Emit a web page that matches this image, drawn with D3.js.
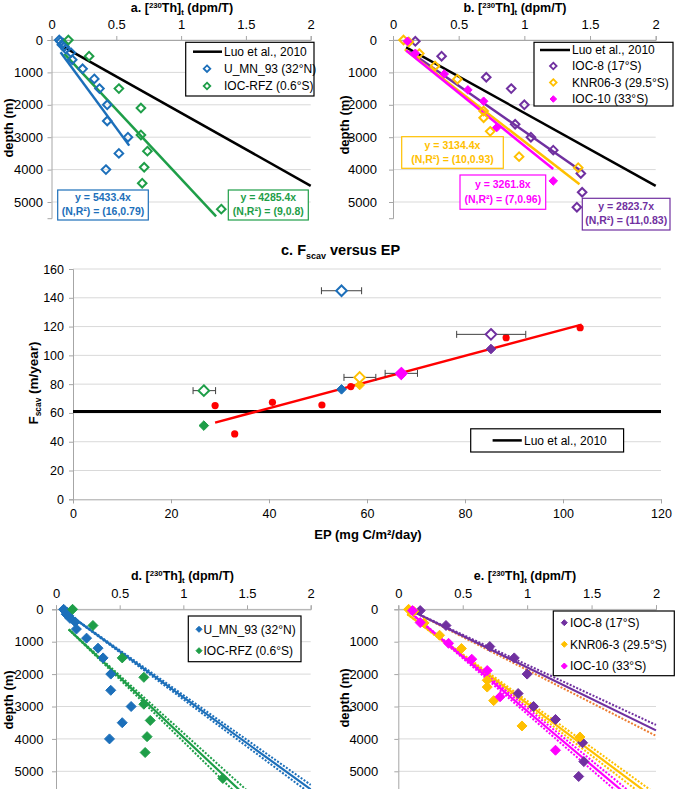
<!DOCTYPE html>
<html><head><meta charset="utf-8">
<script src="https://cdn.jsdelivr.net/npm/d3@7"></script>
<style>body{margin:0;background:#fff} text{font-family:"Liberation Sans",Arial,sans-serif}</style>
</head><body><svg id="chart" width="675" height="789"></svg>
<script>
// ---------------- DATA ----------------
const thTicks = [0, 0.5, 1, 1.5, 2];
const depthTicks = [0, 1000, 2000, 3000, 4000, 5000];
// [Th (dpm/T), depth (m)]
const uMN93 = [[0.06,0],[0.07,50],[0.09,100],[0.08,150],[0.1,200],[0.11,280],[0.15,390],[0.16,610],[0.24,890],[0.33,1200],[0.37,1500],[0.43,2000],[0.43,2500],[0.59,3000],[0.52,3500],[0.42,4000]];
const iocRFZ = [[0.13,0],[0.29,500],[0.52,1500],[0.69,2100],[0.69,2930],[0.74,3430],[0.715,3930],[0.70,4420],[1.31,5220]];
const ioc8 = [[0.17,40],[0.37,500],[0.71,1150],[0.9,1500],[1.0,2000],[0.93,2600],[1.05,3000],[1.22,3400],[1.43,4120],[1.44,4700],[1.4,5160]];
const knr063 = [[0.08,0],[0.12,60],[0.2,420],[0.32,800],[0.49,1210],[0.69,2190],[0.69,2400],[0.74,2820],[0.96,3600],[1.41,3940]];
const ioc10 = [[0.11,40],[0.17,410],[0.39,1050],[0.57,1540],[0.69,1890],[0.79,2700],[1.22,4350]];
const luoSlope = 2250, luoStart = 0.1;          // Luo et al., 2010 line: depth = 2250*Th
// through-origin fits (panels a,b): slope and Th extent
const fitSlopesA = [5433.4, 4285.4];
const fitRangesA = [[0.07, 0.6], [0.1, 1.27]];
const fitLabelsA = [["y = 5433.4x","(N,R²) = (16,0.79)"],["y = 4285.4x","(N,R²) = (9,0.8)"]];
const fitSlopesB = [2823.7, 3134.4, 3261.8];
const fitRangesB = [[0.12, 1.43], [0.09, 1.42], [0.1, 1.22]];
const fitLabelsB = [["y = 2823.7x","(N,R²) = (11,0.83)"],["y = 3134.4x","(N,R²) = (10,0.93)"],["y = 3261.8x","(N,R²) = (7,0.96)"]];
// linear fits with bands (panels d,e): depth = slope*Th + intercept, band = relative slope spread
const fitD = [{slope:2842, icpt:-128, start:0.05, band:0.025},{slope:3700, icpt:250, start:0.1, band:0.04}];
const fitE = [{slope:1945, icpt:-153, start:0.09, band:0.045},{slope:2965, icpt:-58, start:0.07, band:0.03},{slope:3344, icpt:-206, start:0.07, band:0.03}];
// panel c
const cTicksX = [0,20,40,60,80,100,120];
const cTicksY = [0,20,40,60,80,100,120,140,160];
const redEP = [29.0,33.0,40.7,50.8,56.7,88.4,103.5];
const redF  = [65.1,45.4,67.4,65.5,78.3,112.3,119.2];
const redFit = {slope:0.91, icpt:26.9, from:29, to:103.8};
const luoF = 61;
const stNames = ["U_MN_93","IOC-RFZ","IOC-8","KNR06-3","IOC-10"];
const stEP    = [54.8, 26.7, 85.3, 58.5, 67.0];
const stEPlo  = [50.7, 24.5, 78.3, 55.3, 63.7];
const stEPhi  = [58.9, 29.1, 92.4, 61.8, 70.3];
const stFopen = [144.9, 75.5, 114.6, 84.7, 87.5];
const stFfill = [76.4, 51.2, 104.4, 79.4, 86.4];

// ---------------- STYLE ----------------
const C = {blue:"#1c6fba", green:"#1e9e48", purple:"#7030a0", yellow:"#ffc000", magenta:"#ff00ff", red:"#ff0000", orange:"#ed7d31"};
const stColors = [C.blue, C.green, C.purple, C.yellow, C.magenta];
const grid = "#d9d9d9", axisCol = "#a6a6a6";
const svg = d3.select("#chart");
const dia = r => `M0,${-r}L${r},0L0,${r}L${-r},0Z`;

function richText(g, x, y, parts, size, anchor, extra) {
  const t = g.append("text").attr("x", x).attr("y", y).attr("font-size", size)
    .attr("font-weight", "bold").attr("text-anchor", anchor || "middle");
  if (extra) extra(t);
  let shift = 0;
  parts.forEach(p => {
    const ts = t.append("tspan").text(p.t);
    let want = p.sup ? -size*0.3 : p.sub ? size*0.25 : 0;
    ts.attr("dy", want - shift); shift = want;
    if (p.sup || p.sub) ts.attr("font-size", size*0.62);
  });
  return t;
}
const thTitle = l => [{t:l+". ["},{t:"230",sup:true},{t:"Th]"},{t:"t",sub:true},{t:" (dpm/T)"}];

function depthPanel(cfg) {
  const g = svg.append("g");
  const x = d3.scaleLinear([0,2],[cfg.x0,cfg.x1]);
  const y = d3.scaleLinear([0,cfg.dmax],[cfg.y0, cfg.y0 + cfg.dmax*0.0324]);
  g.selectAll(".gl").data(depthTicks).join("line")
    .attr("x1", cfg.x0).attr("x2", cfg.x1).attr("y1", d=>y(d)).attr("y2", d=>y(d))
    .attr("stroke", grid).attr("stroke-width", 1);
  const ax = g.append("g").attr("transform", `translate(0,${cfg.y0})`)
    .call(d3.axisTop(x).tickValues(thTicks).tickFormat(d=>d).tickSize(4).tickPadding(7));
  const ay = g.append("g").attr("transform", `translate(${cfg.x0},0)`)
    .call(d3.axisLeft(y).tickValues(depthTicks).tickFormat(d=>d).tickSize(4).tickPadding(cfg.padY));
  [ax, ay].forEach(a => {
    a.select(".domain").attr("stroke", axisCol);
    a.selectAll(".tick line").attr("stroke", axisCol);
    a.selectAll("text").attr("font-size", 13).attr("fill", "#000").attr("font-family", '"Liberation Sans",Arial,sans-serif');
  });
  richText(g, cfg.tx, cfg.ty, thTitle(cfg.label), 12.5, "middle");
  g.append("text").attr("transform", `translate(${cfg.lx},${cfg.ly}) rotate(-90)`)
    .attr("text-anchor","middle").attr("font-size",13).attr("font-weight","bold").text("depth (m)");
  const clipId = "clip" + cfg.label;
  svg.append("clipPath").attr("id", clipId).append("rect")
    .attr("x", cfg.x0).attr("y", cfg.y0).attr("width", cfg.x1 - cfg.x0 + 1).attr("height", 789 - cfg.y0);
  const plot = g.append("g").attr("clip-path", `url(#${clipId})`);
  return {g, x, y, plot};
}

function drawPoints(p, data, color, hollow, r) {
  p.g.append("g").selectAll("path").data(data).join("path")
    .attr("d", dia(r)).attr("transform", d => `translate(${p.x(d[0])},${p.y(d[1])})`)
    .attr("fill", hollow ? "none" : color).attr("stroke", color).attr("stroke-width", hollow ? 2 : 1);
}
function originFit(p, ext, slope, color) {
  p.g.append("line").attr("x1", p.x(ext[0])).attr("y1", p.y(slope*ext[0]))
    .attr("x2", p.x(ext[1])).attr("y2", p.y(slope*ext[1]))
    .attr("stroke", color).attr("stroke-width", 2.5);
}
function luoLine(p) {
  p.g.append("line").attr("x1", p.x(luoStart)).attr("y1", p.y(luoSlope*luoStart))
    .attr("x2", p.x(2)).attr("y2", p.y(luoSlope*2)).attr("stroke", "#000").attr("stroke-width", 2.5);
}
function fitBox(g, x1, y1, x2, y2, lines, color) {
  g.append("rect").attr("x", x1).attr("y", y1).attr("width", x2-x1).attr("height", y2-y1)
    .attr("fill", "#fff").attr("stroke", color).attr("stroke-width", 1.2);
  const cx = (x1+x2)/2, h = y2-y1;
  lines.forEach((s,i) => g.append("text").attr("x", cx).attr("y", y1 + h*(i===0?0.38:0.82))
    .attr("text-anchor","middle").attr("font-size",10.5).attr("font-weight","bold").attr("fill",color).text(s));
}
function legendBox(g, x1, y1, x2, y2) {
  g.append("rect").attr("x", x1).attr("y", y1).attr("width", x2-x1).attr("height", y2-y1)
    .attr("fill","#fff").attr("stroke","#000").attr("stroke-width",1.2);
}
function legText(g, x, y, s) {
  g.append("text").attr("x", x).attr("y", y).attr("dy","0.35em").attr("font-size",12).text(s);
}

// ---------------- PANEL A ----------------
const A = depthPanel({x0:51.5, x1:310.7, y0:40, dmax:5500, padY:4.5, label:"a", tx:182, ty:12, lx:13, ly:128});
luoLine(A);
originFit(A, fitRangesA[0], fitSlopesA[0], C.blue);
originFit(A, fitRangesA[1], fitSlopesA[1], C.green);
drawPoints(A, uMN93, C.blue, true, 4.3);
drawPoints(A, iocRFZ, C.green, true, 4.3);
legendBox(A.g, 185.7, 42.3, 314, 96);
A.g.append("line").attr("x1",193).attr("x2",222).attr("y1",51.7).attr("y2",51.7).attr("stroke","#000").attr("stroke-width",2.5);
legText(A.g, 224, 51.7, "Luo et al., 2010");
[[C.blue,"U_MN_93 (32°N)",68.7],[C.green,"IOC-RFZ (0.6°S)",86]].forEach(([c,s,yy]) => {
  A.g.append("path").attr("d", dia(3.3)).attr("transform",`translate(207,${yy})`).attr("fill","none").attr("stroke",c).attr("stroke-width",1.8);
  legText(A.g, 224, yy, s);
});
fitBox(A.g, 57.7, 190, 148.3, 220, fitLabelsA[0], C.blue);
fitBox(A.g, 228.3, 190, 308.3, 220, fitLabelsA[1], C.green);

// ---------------- PANEL B ----------------
const B = depthPanel({x0:393, x1:655.7, y0:40, dmax:5500, padY:12, label:"b", tx:515, ty:12, lx:349, ly:125});
luoLine(B);
originFit(B, fitRangesB[0], fitSlopesB[0], C.purple);
originFit(B, fitRangesB[1], fitSlopesB[1], C.yellow);
originFit(B, fitRangesB[2], fitSlopesB[2], C.magenta);
drawPoints(B, ioc8, C.purple, true, 4.3);
drawPoints(B, knr063, C.yellow, true, 4.3);
drawPoints(B, ioc10, C.magenta, false, 4.3);
legendBox(B.g, 534, 42.3, 673, 106);
B.g.append("line").attr("x1",540).attr("x2",570).attr("y1",50).attr("y2",50).attr("stroke","#000").attr("stroke-width",2.5);
legText(B.g, 572, 50, "Luo et al., 2010");
[[C.purple,"IOC-8 (17°S)",66,true],[C.yellow,"KNR06-3 (29.5°S)",82.5,true],[C.magenta,"IOC-10 (33°S)",99,false]].forEach(([c,s,yy,h]) => {
  B.g.append("path").attr("d", dia(3.3)).attr("transform",`translate(553.3,${yy})`).attr("fill",h?"none":c).attr("stroke",c).attr("stroke-width",h?1.8:1);
  legText(B.g, 572, yy, s);
});
fitBox(B.g, 401.7, 136.7, 503.3, 168.3, fitLabelsB[1], C.yellow);
fitBox(B.g, 460, 175, 545.7, 209.3, fitLabelsB[2], C.magenta);
fitBox(B.g, 582.3, 198.3, 670, 230, fitLabelsB[0], C.purple);

// ---------------- PANEL C ----------------
(function(){
  const g = svg.append("g");
  const x = d3.scaleLinear([0,120],[73,661]);
  const y = d3.scaleLinear([0,160],[499.3,269]);
  g.selectAll(".gl").data(cTicksY.slice(1)).join("line")
    .attr("x1",73).attr("x2",661).attr("y1",d=>y(d)).attr("y2",d=>y(d)).attr("stroke",grid);
  const ax = g.append("g").attr("transform",`translate(0,${y(0)})`).call(d3.axisBottom(x).tickValues(cTicksX).tickSize(4).tickPadding(6));
  const ay = g.append("g").attr("transform","translate(73,0)").call(d3.axisLeft(y).tickValues(cTicksY).tickSize(4).tickPadding(5));
  [ax, ay].forEach(a => {
    a.select(".domain").attr("stroke", axisCol);
    a.selectAll(".tick line").attr("stroke", axisCol);
    a.selectAll("text").attr("font-size", 12.5).attr("fill","#000").attr("font-family",'"Liberation Sans",Arial,sans-serif');
  });
  richText(g, 340.6, 255, [{t:"c. F"},{t:"scav",sub:true},{t:" versus EP"}], 14.5, "middle");
  g.append("text").attr("x",368).attr("y",539).attr("text-anchor","middle").attr("font-size",13).attr("font-weight","bold")
    .text("EP (mg C/m²/day)");
  richText(g, 0, 0, [{t:"F"},{t:"scav",sub:true},{t:" (m/year)"}], 13.5, "middle",
    t => t.attr("transform","translate(38,383) rotate(-90)"));
  // Luo line
  g.append("line").attr("x1",73).attr("x2",661).attr("y1",y(luoF)).attr("y2",y(luoF)).attr("stroke","#000").attr("stroke-width",3);
  // red fit + points
  g.append("line").attr("x1",x(redFit.from)).attr("y1",y(redFit.slope*redFit.from+redFit.icpt))
    .attr("x2",x(redFit.to)).attr("y2",y(redFit.slope*redFit.to+redFit.icpt)).attr("stroke",C.red).attr("stroke-width",2.5);
  g.selectAll(".rp").data(redEP).join("circle").attr("cx",d=>x(d)).attr("cy",(d,i)=>y(redF[i])).attr("r",3.6).attr("fill",C.red);
  // filled diamonds
  g.selectAll(".fd").data(stEP).join("path").attr("d",dia(4.8))
    .attr("transform",(d,i)=>`translate(${x(d)},${y(stFfill[i])})`).attr("fill",(d,i)=>stColors[i]).attr("stroke",(d,i)=>stColors[i]);
  // error bars
  stEP.forEach((d,i) => {
    const yy = y(stFopen[i]);
    g.append("line").attr("x1",x(stEPlo[i])).attr("x2",x(stEPhi[i])).attr("y1",yy).attr("y2",yy).attr("stroke","#404040").attr("stroke-width",1);
    [stEPlo[i], stEPhi[i]].forEach(e => g.append("line").attr("x1",x(e)).attr("x2",x(e)).attr("y1",yy-3.5).attr("y2",yy+3.5).attr("stroke","#404040").attr("stroke-width",1));
  });
  // hollow diamonds
  g.selectAll(".od").data(stEP).join("path").attr("d",dia(5.3))
    .attr("transform",(d,i)=>`translate(${x(d)},${y(stFopen[i])})`)
    .attr("fill",(d,i)=> i===4 ? stColors[i] : "#fff").attr("stroke",(d,i)=>stColors[i]).attr("stroke-width",2);
  // legend
  legendBox(g, 470.7, 428.8, 623.6, 452);
  g.append("line").attr("x1",492.6).attr("x2",521.8).attr("y1",440.4).attr("y2",440.4).attr("stroke","#000").attr("stroke-width",2.5);
  legText(g, 524, 440.4, "Luo et al., 2010");
})();

// ---------------- PANELS D, E ----------------
function bandFits(p, fits, colors, lowerColors) {
  fits.forEach((f, i) => {
    const mk = (s, col, dash) => p.plot.append("line")
      .attr("x1", p.x(f.start)).attr("y1", p.y(f.slope*f.start + f.icpt))
      .attr("x2", p.x(2)).attr("y2", p.y(s*2 + f.icpt + (f.slope - s)*f.start))
      .attr("stroke", col).attr("stroke-width", dash ? 2 : 2.2)
      .attr("stroke-dasharray", dash ? "2,1.6" : null);
    mk(f.slope*(1 - f.band), colors[i], true);
    mk(f.slope*(1 + f.band), lowerColors[i], true);
    mk(f.slope, colors[i], false);
  });
}
const D = depthPanel({x0:56, x1:310.7, y0:609.3, dmax:5600, padY:8.5, label:"d", tx:182.5, ty:580, lx:13, ly:700});
bandFits(D, fitD, [C.blue, C.green], [C.blue, C.green]);
drawPoints(D, uMN93, C.blue, false, 5);
drawPoints(D, iocRFZ, C.green, false, 5);
legendBox(D.g, 188.3, 616, 301, 661.7);
[[C.blue,"U_MN_93 (32°N)",629.3],[C.green,"IOC-RFZ (0.6°S)",650.7]].forEach(([c,s,yy]) => {
  D.g.append("path").attr("d", dia(3)).attr("transform",`translate(199,${yy})`).attr("fill",c).attr("stroke",c);
  legText(D.g, 203.5, yy, s);
});

const E = depthPanel({x0:398.3, x1:656, y0:609.3, dmax:5600, padY:16, label:"e", tx:525, ty:580, lx:349, ly:698});
bandFits(E, fitE, [C.purple, C.yellow, C.magenta], [C.orange, C.yellow, C.magenta]);
drawPoints(E, ioc8, C.purple, false, 5);
drawPoints(E, knr063, C.yellow, false, 5);
drawPoints(E, ioc10, C.magenta, false, 5);
legendBox(E.g, 553.3, 611, 674.3, 675.7);
[[C.purple,"IOC-8 (17°S)",622.7],[C.yellow,"KNR06-3 (29.5°S)",644.3],[C.magenta,"IOC-10 (33°S)",666]].forEach(([c,s,yy]) => {
  E.g.append("path").attr("d", dia(3)).attr("transform",`translate(564.3,${yy})`).attr("fill",c).attr("stroke",c);
  legText(E.g, 570, yy, s);
});
</script></body></html>
